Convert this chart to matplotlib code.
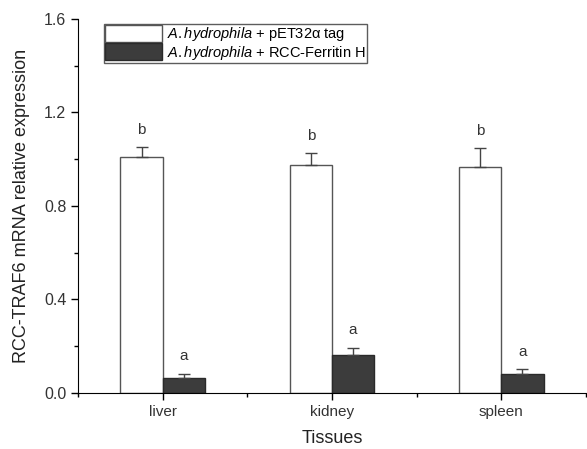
import numpy as np
import matplotlib
matplotlib.use("Agg")
import matplotlib.pyplot as plt
from matplotlib.ticker import MultipleLocator

tissues = ["liver", "kidney", "spleen"]
tag_vals = [1.01, 0.975, 0.967]
tag_err = [0.04, 0.05, 0.08]
fer_vals = [0.064, 0.163, 0.08]
fer_err = [0.017, 0.03, 0.02]
tag_letters = ["b", "b", "b"]
fer_letters = ["a", "a", "a"]

plt.rcParams['font.family'] = ['Liberation Sans', 'DejaVu Sans']
plt.rcParams['mathtext.fontset'] = 'custom'
plt.rcParams['mathtext.rm'] = 'Liberation Sans'
plt.rcParams['mathtext.it'] = 'Liberation Sans:italic'

fig = plt.figure(figsize=(5.87, 4.49), dpi=100)
ax = fig.add_axes([0.133, 0.125, 0.865, 0.833])

x = np.arange(1, len(tissues) + 1)
w = 0.25
ax.bar(x - w/2, tag_vals, w, color="white", edgecolor="#555555", lw=1.0, zorder=2)
ax.bar(x + w/2, fer_vals, w, color="#3c3c3c", edgecolor="#2a2a2a", lw=1.0, zorder=2)
ax.errorbar(x - w/2, tag_vals, yerr=[np.zeros(3), tag_err], fmt="none",
            ecolor="#444444", elinewidth=1, capsize=4, capthick=1, zorder=3)
ax.errorbar(x + w/2, fer_vals, yerr=[np.zeros(3), fer_err], fmt="none",
            ecolor="#444444", elinewidth=1, capsize=4, capthick=1, zorder=3)

for i in range(len(tissues)):
    ax.text(x[i] - w/2, tag_vals[i] + tag_err[i] + 0.075, tag_letters[i],
            ha="center", va="center", fontsize=11, color="#333333")
    ax.text(x[i] + w/2, fer_vals[i] + fer_err[i] + 0.075, fer_letters[i],
            ha="center", va="center", fontsize=11, color="#333333")

ax.set_xlim(0.5, 3.5)
ax.set_ylim(0, 1.6)
ax.set_xticks(x)
ax.set_xticklabels(tissues, fontsize=11, color="#333333")
ax.xaxis.set_minor_locator(MultipleLocator(1.0, offset=0.5))
ax.yaxis.set_major_locator(MultipleLocator(0.4))
ax.yaxis.set_minor_locator(MultipleLocator(0.2))
ax.tick_params(axis="y", labelsize=11.5, labelcolor="#333333")
ax.tick_params(which="major", direction="out", length=5, width=1)
ax.tick_params(which="minor", direction="out", length=3, width=1)
ax.spines["top"].set_visible(False)
ax.spines["right"].set_visible(False)
ax.set_ylabel("RCC-TRAF6 mRNA relative expression", fontsize=13, color="#222222",
              labelpad=10)
ax.set_xlabel("Tissues", fontsize=13, color="#222222", labelpad=8)

handles = [plt.Rectangle((0, 0), 1, 1, fc="white", ec="#555555"),
           plt.Rectangle((0, 0), 1, 1, fc="#3c3c3c", ec="#2a2a2a")]
labels = [r"$\mathit{A.hydrophila}$ + pET32α tag",
          r"$\mathit{A.hydrophila}$ + RCC-Ferritin H"]
ax.legend(handles, labels, loc="upper left", bbox_to_anchor=(0.045, 0.995),
          fontsize=10.5, frameon=True, fancybox=False, edgecolor="#333333",
          borderpad=0.1, handlelength=3.9, handleheight=1.4, labelspacing=0.0,
          handletextpad=0.3, borderaxespad=0.2)

fig.savefig("out.png", dpi=100)
